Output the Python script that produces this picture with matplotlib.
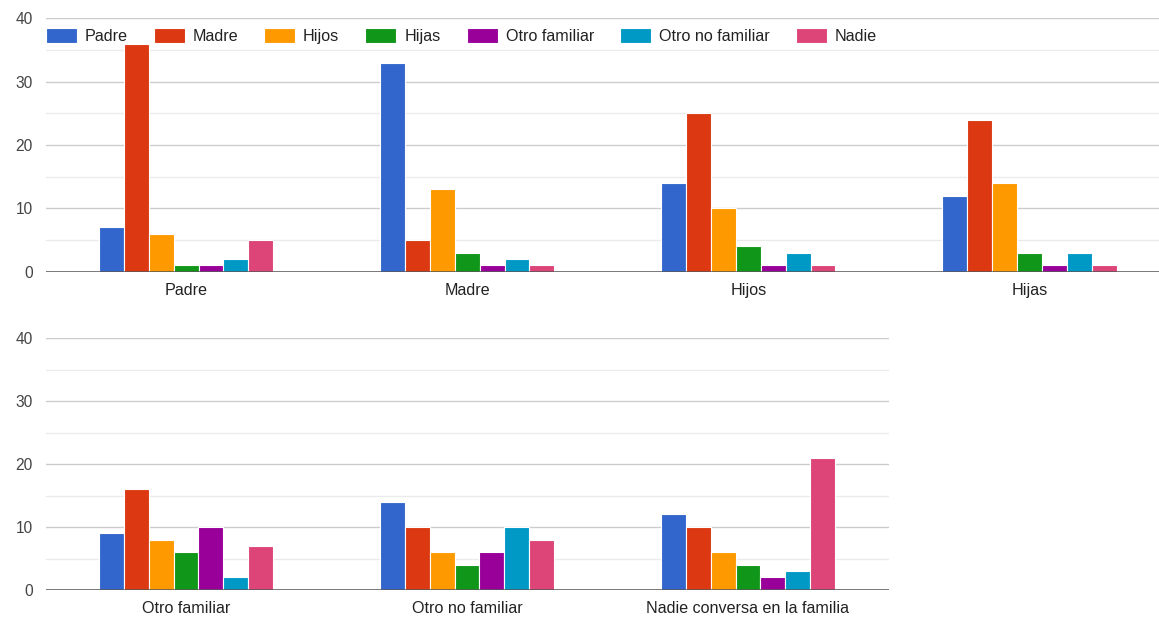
import matplotlib
matplotlib.use("Agg")
import matplotlib.pyplot as plt
import numpy as np

plt.rcParams['font.family'] = ['Liberation Sans', 'DejaVu Sans']

# Who each family member talks with
series = ["Padre", "Madre", "Hijos", "Hijas", "Otro familiar", "Otro no familiar", "Nadie"]
colors = ["#3366CC", "#DC3912", "#FF9900", "#109618", "#990099", "#0099C6", "#DD4477"]

top_categories = ["Padre", "Madre", "Hijos", "Hijas"]
top_values = {
    "Padre":            [7, 33, 14, 12],
    "Madre":            [36, 5, 25, 24],
    "Hijos":            [6, 13, 10, 14],
    "Hijas":            [1, 3, 4, 3],
    "Otro familiar":    [1, 1, 1, 1],
    "Otro no familiar": [2, 2, 3, 3],
    "Nadie":            [5, 1, 1, 1],
}

bottom_categories = ["Otro familiar", "Otro no familiar", "Nadie conversa en la familia"]
bottom_values = {
    "Padre":            [9, 14, 12],
    "Madre":            [16, 10, 10],
    "Hijos":            [8, 6, 6],
    "Hijas":            [6, 4, 4],
    "Otro familiar":    [10, 6, 2],
    "Otro no familiar": [2, 10, 3],
    "Nadie":            [7, 8, 21],
}

y_ticks = [0, 10, 20, 30, 40]

W, H = 1159, 617
fig = plt.figure(figsize=(W / 100, H / 100), dpi=100)

bar_w = 0.0885


def draw_panel(ax, categories, values):
    n = len(categories)
    x = np.arange(n)
    k = len(series)
    for i, name in enumerate(series):
        offs = (i - (k - 1) / 2) * bar_w
        ax.bar(x + offs, values[name], width=bar_w, color=colors[i],
               edgecolor="white", linewidth=0.8, zorder=3, label=name)
    ax.set_xlim(-0.5, n - 0.5)
    ax.set_ylim(0, 40)
    ax.set_yticks(y_ticks)
    ax.set_yticks([5, 15, 25, 35], minor=True)
    ax.set_xticks(x)
    ax.set_xticklabels(categories)
    ax.grid(axis="y", which="major", color="#cccccc", linewidth=1, zorder=0)
    ax.grid(axis="y", which="minor", color="#ebebeb", linewidth=1, zorder=0)
    for s in ["top", "right", "left", "bottom"]:
        ax.spines[s].set_visible(False)
    ax.axhline(0, color="#555555", linewidth=1.8, zorder=4)
    ax.tick_params(axis="y", which="both", length=0, pad=9, labelsize=11.2,
                   labelcolor="#444444")
    ax.tick_params(axis="x", length=0, pad=8, labelsize=11.6, labelcolor="#222222")


ax1 = fig.add_axes([45.5 / W, 1 - 271.7 / H, (1170 - 45.5) / W, 253.4 / H])
draw_panel(ax1, top_categories, top_values)

ax2 = fig.add_axes([45.5 / W, 1 - 590 / H, 843 / W, 252 / H])
draw_panel(ax2, bottom_categories, bottom_values)

fs = 11.6
fpx = fs * 100 / 72
ax1.legend(loc="center left", bbox_to_anchor=(0.0, 0.93), ncol=7, frameon=False,
           fontsize=fs, handlelength=31 / fpx, handleheight=16 / fpx,
           handletextpad=8 / fpx, columnspacing=26 / fpx,
           borderpad=0, borderaxespad=0, labelcolor="#222222")

fig.savefig("out.png", dpi=100)
